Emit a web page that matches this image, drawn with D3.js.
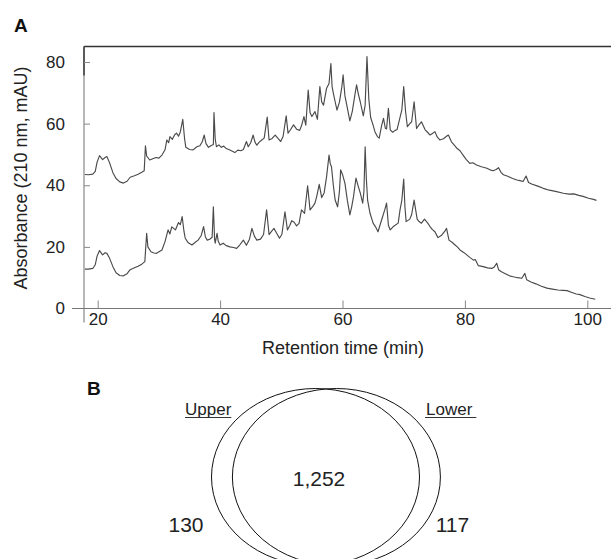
<!DOCTYPE html>
<html>
<head>
<meta charset="utf-8">
<script src="https://cdn.jsdelivr.net/npm/d3@7"></script>
<style>
  body { margin: 0; background: #fff; }
  svg { display: block; font-family: "Liberation Sans", Arial, Helvetica, sans-serif; }
</style>
</head>
<body>
<div id="chart"></div>
<script>
// Panel A: two chromatograms (upper and lower fractions)
const upperTime = [17.9, 18.5, 19.2, 19.6, 19.9, 20.3, 20.8, 21.2, 21.5, 21.9, 22.5, 23.0, 23.6, 24.2, 24.8, 25.3, 26.0, 26.6, 27.2, 27.6,
  27.8, 28.0, 28.5, 29.0, 29.5, 30.0, 30.5, 31.0, 31.3, 31.6, 31.8, 32.2, 32.6, 32.9, 33.2, 33.5, 33.9, 34.2, 34.4, 35.0,
  35.6, 36.2, 36.7, 37.1, 37.4, 37.7, 38.1, 38.5, 38.9, 39.0, 39.2, 39.4, 39.8, 40.2, 40.6, 41.0, 41.5, 42.0, 42.4, 42.9,
  43.4, 43.8, 44.3, 44.6, 45.0, 45.4, 45.7, 46.0, 46.4, 46.8, 47.2, 47.7, 48.0, 48.5, 49.0, 49.5, 49.9, 50.3, 50.8, 51.1,
  51.5, 52.0, 52.5, 53.0, 53.3, 53.7, 54.0, 54.4, 54.7, 55.0, 55.5, 55.9, 56.3, 56.6, 56.9, 57.4, 57.8, 58.1, 58.3, 58.5,
  58.8, 59.1, 59.5, 59.9, 60.1, 60.4, 60.7, 61.2, 61.6, 62.0, 62.3, 62.6, 62.9, 63.4, 63.7, 64.0, 64.3, 64.6, 65.0, 65.3,
  65.7, 66.0, 66.4, 66.7, 67.0, 67.2, 67.5, 67.8, 68.2, 68.6, 68.9, 69.4, 69.7, 70.0, 70.3, 70.6, 71.0, 71.3, 71.7, 72.1,
  72.5, 72.9, 73.5, 73.9, 74.3, 74.7, 75.1, 75.5, 75.9, 76.5, 77.0, 77.3, 77.8, 78.2, 78.7, 79.2, 79.7, 80.2, 80.8, 81.3,
  81.9, 82.7, 83.6, 84.1, 84.6, 85.1, 85.5, 85.9, 86.3, 87.0, 87.8, 88.5, 89.0, 89.5, 90.0, 90.4, 91.0, 91.8, 92.8, 93.8,
  94.8, 96.1, 97.0, 97.8, 98.6, 99.3, 100.2, 101.0, 101.5];
const upperAbs = [43.5, 43.4, 43.6, 44.5, 47.5, 49.6, 48.3, 49, 49.3, 47.5, 44, 42.2, 41.1, 40.7, 41.3, 42.6, 43.1, 43.6, 44.2, 44.7,
  52.8, 49.5, 48.2, 48.6, 49, 48.8, 49.8, 51.5, 54.7, 53.8, 55.8, 54.9, 56.5, 56.9, 55.9, 57.3, 61.4, 55, 52.3, 51.6,
  51.5, 52.5, 52.8, 54.2, 56.3, 53.5, 52.3, 52.8, 53.2, 63.6, 55, 52.5, 53.1, 52.3, 52.7, 51.9, 51.5, 51, 50.6, 51.4,
  51.2, 51.6, 54.2, 52.5, 53.8, 56.3, 54, 53, 54, 54.7, 55.3, 62.1, 54.7, 55.2, 56.3, 55.1, 54.2, 55.9, 62.5, 56.9,
  58, 59.6, 58.2, 57.8, 59.3, 62.3, 59.5, 70.9, 63.5, 62.3, 63.9, 61.4, 72, 67, 66, 71.5, 73, 79.5, 72, 69.9,
  67.1, 64.4, 67, 72, 75.8, 69, 66, 60.9, 64, 69, 72.6, 69.5, 67.1, 62.5, 66, 81.8, 68, 62, 59.5, 57.4,
  55.8, 55.3, 59.4, 61.7, 58.5, 58.3, 65, 58, 57.2, 57.8, 58, 62, 64.5, 72, 64, 59, 60, 60.6, 67.1, 58.4,
  59.6, 60.6, 58, 57.2, 56.3, 56.8, 57.4, 55.6, 54.7, 55.1, 55.9, 56.3, 54.1, 53.2, 52, 51.2, 49.8, 48.4, 47.1, 47.3,
  46.6, 46, 45.5, 45, 44.7, 45.1, 45.7, 44.2, 43.4, 42.9, 42.2, 41.7, 41.5, 41.2, 43, 40.9, 40.3, 39.8, 39, 38.4,
  38, 37.4, 37.1, 37.2, 36.7, 36.4, 35.8, 35.4, 35.1];

const lowerTime = [17.9, 18.5, 19.2, 19.6, 19.9, 20.3, 20.8, 21.2, 21.5, 21.9, 22.5, 23.0, 23.6, 24.2, 24.8, 25.3, 26.0, 26.6, 27.2, 27.7,
  28.0, 28.2, 28.7, 29.2, 29.6, 30.1, 30.5, 31.0, 31.5, 31.8, 32.1, 32.7, 33.2, 33.5, 33.8, 34.1, 34.3, 34.8, 35.4, 35.9,
  36.4, 36.9, 37.3, 37.6, 37.9, 38.3, 38.7, 38.9, 39.1, 39.2, 39.5, 39.7, 40.0, 40.5, 41.0, 41.6, 42.2, 42.7, 43.2, 43.8,
  44.3, 44.8, 45.2, 45.6, 46.0, 46.6, 47.1, 47.6, 48.0, 48.4, 48.8, 49.2, 49.7, 50.1, 50.6, 51.0, 51.4, 51.7, 52.1, 52.5,
  52.9, 53.3, 53.8, 54.3, 54.7, 55.1, 55.5, 55.8, 56.2, 56.6, 57.0, 57.4, 57.8, 58.0, 58.2, 58.5, 58.8, 59.2, 59.5, 59.7,
  60.0, 60.4, 60.8, 61.2, 61.5, 61.8, 62.2, 62.6, 62.9, 63.3, 63.5, 63.7, 63.9, 64.1, 64.5, 65.0, 65.4, 65.8, 66.4, 66.9,
  67.2, 67.5, 67.8, 68.3, 68.6, 69.1, 69.4, 69.7, 70.0, 70.2, 70.4, 71.0, 71.3, 71.7, 72.2, 72.5, 72.9, 73.4, 73.9, 74.3,
  74.7, 75.1, 75.6, 76.2, 76.7, 77.0, 77.4, 77.9, 78.4, 78.8, 79.2, 79.8, 80.3, 80.8, 81.4, 81.7, 82.2, 83.0, 83.7, 84.4,
  84.8, 85.2, 85.5, 85.9, 86.6, 87.3, 87.9, 88.6, 89.3, 89.8, 90.1, 90.8, 91.6, 92.5, 93.4, 94.3, 95.2, 96.0, 96.7, 97.5,
  98.2, 98.8, 99.6, 100.4, 101.3];
const lowerAbs = [12.8, 12.8, 13, 14.2, 17, 18.8, 17.4, 18.1, 17.9, 16.5, 13.5, 11.6, 10.7, 10.6, 11.3, 12.6, 13.2, 13.7, 14.4, 15.2,
  24.4, 20, 18.4, 18, 17.9, 18.5, 19, 21.7, 25.5, 24.2, 26.5, 25.5, 27.9, 27.2, 29.8, 25, 22.8, 21.3, 20.6, 21.4,
  22.2, 23.6, 26.6, 23.2, 22.2, 22.5, 23.1, 33, 22.5, 21.2, 24.4, 21.8, 20.6, 21.2, 20.4, 20, 19.8, 19.5, 20.6, 22.2,
  20.5, 22.5, 26, 23.5, 22.2, 22.5, 24, 32, 24, 25, 26, 24.6, 22.8, 24.1, 31.4, 25.5, 27, 28.5, 28, 26.8,
  27.6, 32, 30.9, 39.8, 32, 33, 34.2, 36.5, 40.3, 36, 37.5, 42.8, 49.8, 47, 46, 40, 35.2, 33, 38, 45,
  43.5, 40.6, 35, 30.4, 33, 36.3, 42.3, 39.5, 37.5, 34.2, 38, 52.5, 42, 35.2, 30.9, 27.7, 26.5, 24.9, 28.8, 32,
  34.2, 27, 25.5, 26.6, 27, 27.7, 32, 35.2, 42, 33, 28.2, 29, 30.5, 35.2, 29, 28.2, 27.7, 29, 27.8, 26.6,
  25.6, 24.9, 23, 23.8, 25, 26, 22.2, 21.5, 20.6, 19.9, 19, 18.2, 17.4, 16.6, 15.7, 15.9, 13.9, 13.6, 13.2, 13,
  13.5, 14.7, 12.6, 12, 11.3, 10.6, 10.3, 10, 9.8, 11.4, 9.3, 8.6, 8, 7.2, 6.6, 6.3, 6, 5.9, 5.8, 5.2,
  4.7, 4.5, 3.9, 3.4, 3];

const xTicks = [20, 40, 60, 80, 100];
const yTicks = [0, 20, 40, 60, 80];

// Panel B: Venn counts
const vennLabels = ["Upper", "Lower"];
const vennOnly = [130, 117];
const vennShared = 1252;

const width = 611, height = 559;
const plotLeft = 84, plotTop = 46.5, plotBottom = 308.5, plotRight = 611;

const svg = d3.select("#chart").append("svg")
  .attr("width", width)
  .attr("height", height);

const x = d3.scaleLinear().domain([20, 100]).range([97.7, 587.3]);
const y = d3.scaleLinear().domain([0, 80]).range([plotBottom, 62]);

// frame: top border, left axis line, bottom axis line
svg.append("line")
  .attr("x1", plotLeft).attr("x2", plotRight).attr("y1", plotTop).attr("y2", plotTop)
  .attr("stroke", "#333").attr("stroke-width", 1.3);
svg.append("line")
  .attr("x1", plotLeft).attr("x2", plotLeft).attr("y1", plotTop).attr("y2", plotBottom + 14)
  .attr("stroke", "#888").attr("stroke-width", 1.2);
// darker stub at the top of the left axis
svg.append("line")
  .attr("x1", plotLeft).attr("x2", plotLeft).attr("y1", plotTop).attr("y2", plotTop + 29)
  .attr("stroke", "#333").attr("stroke-width", 1.4);
svg.append("line")
  .attr("x1", plotLeft - 12).attr("x2", plotRight).attr("y1", plotBottom).attr("y2", plotBottom)
  .attr("stroke", "#777").attr("stroke-width", 1.2);

// axes (ticks point inward)
const xAxis = svg.append("g")
  .attr("transform", `translate(0,${plotBottom})`)
  .call(d3.axisBottom(x).tickValues(xTicks).tickSizeInner(-8).tickSizeOuter(0).tickPadding(4.5));
const yAxis = svg.append("g")
  .attr("transform", `translate(${plotLeft},0)`)
  .call(d3.axisLeft(y).tickValues(yTicks).tickSizeInner(-6).tickSizeOuter(0).tickPadding(19));

[xAxis, yAxis].forEach(g => {
  g.select(".domain").remove();
  g.selectAll(".tick line").attr("stroke", "#888");
  g.selectAll(".tick text")
    .attr("fill", "#222")
    .style("font-size", "17px")
    .style("font-family", "'Liberation Sans', Arial, sans-serif");
});
// no tick mark at 0 on the y axis (it sits on the x axis)
yAxis.selectAll(".tick").filter(d => d === 0).select("line").remove();

// chromatogram traces
const line = d3.line()
  .x(d => x(d[0]))
  .y(d => y(d[1]));

const traces = [
  d3.zip(upperTime, upperAbs),
  d3.zip(lowerTime, lowerAbs)
];

svg.append("g")
  .selectAll("path")
  .data(traces)
  .enter()
  .append("path")
    .attr("d", line)
    .attr("fill", "none")
    .attr("stroke", "#4a4a4a")
    .attr("stroke-width", 1.15)
    .attr("stroke-linejoin", "round");

// axis titles
svg.append("text")
  .attr("x", 343).attr("y", 354)
  .attr("text-anchor", "middle")
  .attr("fill", "#222")
  .style("font-size", "18px")
  .text("Retention time (min)");

svg.append("text")
  .attr("transform", "translate(27,178) rotate(-90)")
  .attr("text-anchor", "middle")
  .attr("fill", "#222")
  .style("font-size", "18px")
  .text("Absorbance (210 nm, mAU)");

// panel letters
svg.append("text")
  .attr("x", 14).attr("y", 32)
  .attr("font-weight", "bold")
  .style("font-size", "19px")
  .attr("fill", "#111")
  .text("A");
svg.append("text")
  .attr("x", 87).attr("y", 395)
  .attr("font-weight", "bold")
  .style("font-size", "19px")
  .attr("fill", "#111")
  .text("B");

// Venn diagram
const vennCx = [315.5, 336.4], vennCy = 477, vennRx = 104, vennRy = 88.5;

svg.append("g")
  .selectAll("ellipse")
  .data(vennLabels)
  .enter()
  .append("ellipse")
    .attr("cx", (d, i) => vennCx[i])
    .attr("cy", vennCy)
    .attr("rx", vennRx)
    .attr("ry", vennRy)
    .attr("fill", "none")
    .attr("stroke", "#111")
    .attr("stroke-width", 1);

const labelPos = [{x: 185, y: 415}, {x: 426, y: 415}];
vennLabels.forEach((lab, i) => {
  const t = svg.append("text")
    .attr("x", labelPos[i].x).attr("y", labelPos[i].y)
    .attr("fill", "#222")
    .style("font-size", "17px")
    .text(lab);
  const w = t.node().getComputedTextLength();
  svg.append("line")
    .attr("x1", labelPos[i].x - (i === 1 ? 1 : 0))
    .attr("x2", labelPos[i].x + w + (i === 1 ? 4 : 0))
    .attr("y1", labelPos[i].y + 2.5).attr("y2", labelPos[i].y + 2.5)
    .attr("stroke", "#333").attr("stroke-width", 1);
});

svg.append("text")
  .attr("x", 319).attr("y", 486)
  .attr("text-anchor", "middle")
  .attr("fill", "#222")
  .style("font-size", "21px")
  .text(d3.format(",")(vennShared));

const onlyPos = [186, 452.5];
svg.append("g")
  .selectAll("text")
  .data(vennOnly)
  .enter()
  .append("text")
    .attr("x", (d, i) => onlyPos[i])
    .attr("y", 531.5)
    .attr("text-anchor", "middle")
    .attr("fill", "#222")
    .style("font-size", "21px")
    .text(d => d);
</script>
</body>
</html>
